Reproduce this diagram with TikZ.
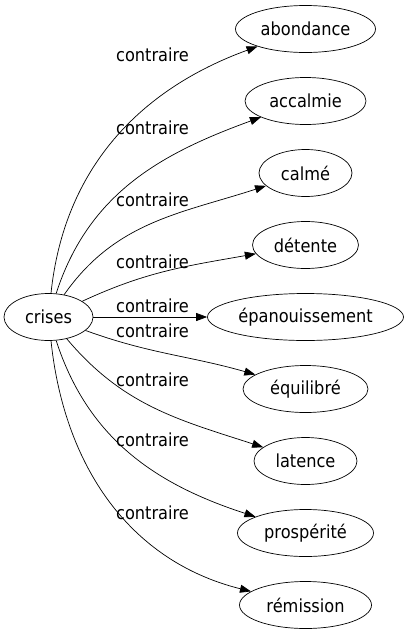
\documentclass[tikz,border=0pt]{standalone}
\usepackage{fontspec}
\setmainfont{DejaVu Sans}[FakeStretch=0.9]
\usepackage {tikz}
\usetikzlibrary {positioning}
\usetikzlibrary{shapes.geometric}
\usetikzlibrary{arrows.meta}
\tikzset{
    word/.style = {ellipse,draw,line width=0.7pt,minimum height=47pt,inner sep=0pt,font=\fontsize{18}{21}\selectfont},
    rel/.style = {inner sep=0pt,font=\fontsize{18}{21}\selectfont},
    link/.style = {draw,line width=0.7pt,-{Triangle[length=11pt,width=8pt]}}}
\begin{document}
\begin{tikzpicture}[x=1pt,y=1pt]
    \useasboundingbox (0,0) rectangle (409,-635);
    \path (48.5,-317) node[word,minimum width=89pt] (crises) {crises}
        ++ (257,288) node[word,minimum width=140pt] (abondance) {abondance}
        + (0,-72) node[word,minimum width=121pt] (accalmie) {accalmie}
        + (0,-144) node[word,minimum width=93pt] (calme) {calmé}
        + (0,-216) node[word,minimum width=106pt] (detente) {détente}
        + (0,-288) node[word,minimum width=196pt] (epanouissement) {épanouissement}
        + (0,-360) node[word,minimum width=125pt] (equilibre) {équilibré}
        + (0,-432) node[word,minimum width=103pt] (latence) {latence}
        + (0,-504) node[word,minimum width=136pt] (prosperite) {prospérité}
        + (0,-576) node[word,minimum width=132pt] (remission) {rémission};
    \path (152.5,-55) node[rel] (labAbondance) {contraire}
        + (0,-73) node[rel] (labAccalmie) {contraire}
        + (0,-145) node[rel] (labCalme) {contraire}
        + (0,-207) node[rel] (labDetente) {contraire}
        + (0,-251) node[rel] (labEpanouissement) {contraire}
        + (0,-276) node[rel] (labEquilibre) {contraire}
        + (0,-325) node[rel] (labLatence) {contraire}
        + (0,-385) node[rel] (labProsperite) {contraire}
        + (0,-458) node[rel] (labRemission) {contraire};
    \draw[link] (crises) to [out=84,in=200] (abondance);
    \draw[link] (crises) to [out=72,in=200] (accalmie);
    \draw[link] (crises) to [out=55,in=198] (calme);
    \draw[link] (crises) to [out=25,in=190] (detente);
    \draw[link] (crises) -- (epanouissement);
    \draw[link] (crises) to [out=-20,in=164] (equilibre);
    \draw[link] (crises) to [out=-50,in=162] (latence);
    \draw[link] (crises) to [out=-72,in=162] (prosperite);
    \draw[link] (crises) to [out=-84,in=166] (remission);
\end{tikzpicture}
\end{document}
